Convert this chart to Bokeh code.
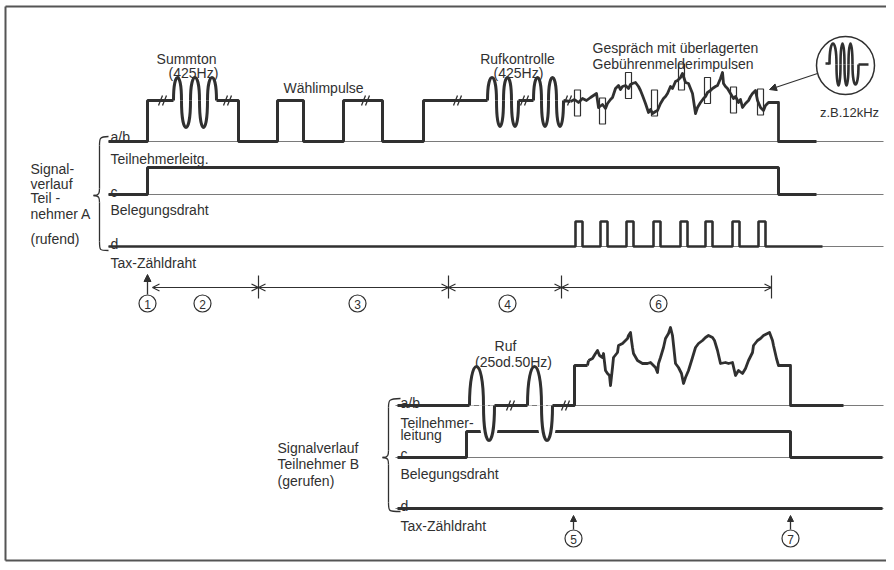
from bokeh.plotting import figure
from bokeh.models import Range1d, Arrow, NormalHead, OpenHead
from bokeh.core.properties import value
from bokeh.embed import file_html
from bokeh.resources import INLINE

NAN = float("nan")

# ---------------- data: signal waveforms (time position, level above wire baseline) -------------
# Teilnehmer A, a/b wire (Teilnehmerleitung): step parts, NaN = gap where a tone burst is drawn
a_ab_t = [108, 147, 147, 173, NAN,
          216, 238, 238, 277, 277, 303, 303, 343, 343, 382, 382, 423, 423, 487, NAN,
          518, 533, NAN,
          563, 570]
a_ab_l = [0, 0, 41, 41, NAN,
          41, 41, 0, 0, 41, 41, 0, 0, 41, 41, 0, 0, 41, 41, NAN,
          41, 41, NAN,
          41, 40]
# conversation (Gespräch) on A
a_talk_t = [574, 578, 582, 586, 590, 593, 596, 598, 602, 605, 607, 610, 612, 615, 618, 620, 622,
            625, 628, 630, 632, 635, 638, 640, 642, 645, 648, 650, 652, 655, 657, 660, 663, 665,
            667, 670, 672, 675, 677, 680, 682, 685, 688, 690, 692, 695, 697, 700, 703, 705, 707,
            710, 712, 715, 717, 720, 722, 723, 725, 727, 730, 733, 735, 738, 740, 742, 745, 748,
            750, 752, 755, 757, 760, 763, 765, 768, 773, 777, 778, 778, 816]
a_talk_l = [42, 39, 43, 41, 44, 46, 48, 34, 37, 33, 38, 42, 44, 53, 56, 52, 55,
            56, 53, 57, 58, 59, 55, 51, 46, 38, 29, 32, 28, 30, 31, 38, 43, 45,
            48, 55, 53, 60, 61, 64, 68, 59, 58, 53, 48, 28, 34, 39, 43, 45, 49,
            51, 53, 55, 56, 63, 69, 58, 55, 53, 48, 43, 45, 39, 42, 34, 38, 41,
            45, 48, 51, 41, 34, 31, 36, 39, 39, 39, 39, 0, 0]
ab_high = 41
# tone bursts: half-cycle boundaries and amplitudes
summton_t = [173, 181, 190, 199, 207, 216]
summton_a = [23, -27, 23, -27, 23]
rufkontr1_t = [487, 496, 503, 511, 518]
rufkontr2_t = [533, 541, 548, 556, 563]
rufkontr_a = [23, -26, 23, -26]
# charging pulses (Gebührenmelderimpulse) superimposed on the a/b line, level of box centre
gm_t = [577, 602, 628, 654, 681, 707, 733, 760]
gm_l = [38.5, 30.5, 56, 38.5, 64.5, 51, 41.5, 39.5]
# A, c wire (Belegungsdraht)
a_c_t = [108, 147, 147, 778, 778, 816]
a_c_l = [0, 0, 27, 27, 0, 0]
# A, d wire (Tax-Zähldraht) pulses
a_d_pulse_t = [575, 600, 626, 653, 680, 705, 732, 758]
a_d_end = 822
# break marks (//)
a_break_t = [162, 227, 365, 457, 524, 567]
# magnified 12 kHz burst
burst_t = [829, 836, 840, 844, 848, 852, 858]
burst_a = [21, -21, 21, -21, 21, -20]

# Teilnehmer B, a/b wire
b_ab_t = [397, 469, NAN, 494, 527, NAN, 552, 574, 574, 587]
b_ab_l = [0, 0, NAN, 0, 0, NAN, 0, 0, 40, 40]
b_talk_t = [588, 592, 595, 597, 599, 602, 603, 605, 607, 609, 610, 612, 613, 617, 618, 622, 625,
            627, 628, 630, 631, 632, 633, 637, 642, 647, 650, 653, 655, 657, 658, 660, 663, 665,
            668, 670, 672, 675, 678, 681, 683, 685, 688, 692, 695, 698, 702, 705, 708, 712, 714,
            717, 720, 725, 728, 732, 735, 738, 742, 745, 748, 752, 753, 757, 760, 763, 767, 769,
            772, 773, 776, 778, 790, 790, 843]
b_talk_l = [45, 47, 52, 55, 50, 48, 52, 35, 32, 30, 20, 38, 48, 53, 60, 62, 65,
            67, 70, 73, 65, 58, 52, 45, 42, 42, 43, 40, 38, 33, 42, 48, 58, 67,
            72, 78, 70, 42, 38, 32, 22, 28, 35, 48, 58, 62, 65, 68, 70, 68, 65,
            55, 42, 43, 42, 43, 30, 35, 32, 37, 45, 53, 60, 65, 67, 70, 72, 73,
            65, 60, 47, 40, 40, 0, 0]
# ringing (Ruf) half cycles
ruf1_t = [469, 483, 494]
ruf2_t = [527, 541, 552]
ruf_a = [39, -35]
b_c_t = [397, 466, 466, 790, 790, 882]
b_c_l = [0, 0, 26, 26, 0, 0]
b_d_t = [397, 882]
b_d_l = [0, 0]
b_break_t = [510, 565]

# phases
phase_t = [258, 448, 561, 771]

# ---------------- drawing ----------------
INK = "#303030"
THIN = "#7a7a7a"
FONT = value("Liberation Sans")

W, H = 886, 562
p = figure(width=W, height=H, x_range=Range1d(0, W), y_range=Range1d(H, 0),
           output_backend="svg", toolbar_location=None, min_border=0,
           x_axis_type=None, y_axis_type=None)
p.grid.visible = False
p.outline_line_color = None
p.background_fill_color = "white"
p.border_fill_color = "white"

# frame
p.segment(x0=[5, 5, 5], y0=[6, 6, H - 2], x1=[W, 5, W], y1=[6, H - 2, H - 2],
          line_color="#555555", line_width=2)

A_AB, A_C, A_D = 141, 194, 246
B_AB, B_C, B_D = 405, 457, 508


def Y(base, levels):
    return [base - l for l in levels]


def humps(bounds, amps, base, center, width=3, color=INK):
    x0 = bounds[:-1]
    x1 = bounds[1:]
    yc = base - center
    cy = [yc - 4.0 * a / 3.0 for a in amps]
    n = len(x0)
    p.bezier(x0=x0, y0=[yc] * n, x1=x1, y1=[yc] * n, cx0=x0, cy0=cy, cx1=x1, cy1=cy,
             line_width=width, line_color=color)


def txt(x, y, s, size=14, align="left", font=FONT):
    p.text(x=[x], y=[y], text=[s], text_font=font, text_font_size=f"{size}px",
           text_align=align, text_baseline="alphabetic", text_color=INK)


# thin wire baselines
for base, x0 in [(A_AB, 108), (A_C, 108), (A_D, 108), (B_AB, 395), (B_C, 395), (B_D, 395)]:
    p.segment(x0=[x0], y0=[base], x1=[883], y1=[base], line_color=THIN, line_width=1.2)

# A signals
p.line(a_ab_t, Y(A_AB, a_ab_l), line_color=INK, line_width=3)
p.line(a_talk_t, Y(A_AB, a_talk_l), line_color=INK, line_width=2.8, line_join="round")
p.line([570, 574], Y(A_AB, [40, 42]), line_color=INK, line_width=2.8)
humps(summton_t, summton_a, A_AB, ab_high)
humps(rufkontr1_t, rufkontr_a, A_AB, ab_high)
humps(rufkontr2_t, rufkontr_a, A_AB, ab_high)
p.quad(left=[t - 3 for t in gm_t], right=[t + 3 for t in gm_t],
       top=[A_AB - l - 13 for l in gm_l], bottom=[A_AB - l + 13 for l in gm_l],
       fill_color=None, line_color=INK, line_width=1.2)
p.line(a_c_t, Y(A_C, a_c_l), line_color=INK, line_width=3)
dx, dl = [108], [0]
for t in a_d_pulse_t:
    dx += [t, t, t + 7, t + 7]
    dl += [0, 25, 25, 0]
dx.append(a_d_end)
dl.append(0)
p.line(dx, Y(A_D, dl), line_color=INK, line_width=2.6)


# break marks
def breaks(ts, base, level):
    yc = base - level
    xs0, ys0, xs1, ys1 = [], [], [], []
    for t in ts:
        for o in (-2, 2):
            xs0.append(t + o - 2); ys0.append(yc + 5)
            xs1.append(t + o + 2); ys1.append(yc - 5)
    p.segment(x0=xs0, y0=ys0, x1=xs1, y1=ys1, line_color=INK, line_width=1.3)


breaks(a_break_t, A_AB, ab_high)

# B signals
p.line(b_c_t, Y(B_C, b_c_l), line_color=INK, line_width=3)
p.line(b_d_t, Y(B_D, b_d_l), line_color=INK, line_width=3)
humps(ruf1_t, ruf_a, B_AB, 0, width=9, color="white")
humps(ruf2_t, ruf_a, B_AB, 0, width=9, color="white")
p.line(b_ab_t, Y(B_AB, b_ab_l), line_color=INK, line_width=3)
p.line(b_talk_t, Y(B_AB, b_talk_l), line_color=INK, line_width=2.8, line_join="round")
p.line([587, 588], Y(B_AB, [40, 45]), line_color=INK, line_width=2.8)
humps(ruf1_t, ruf_a, B_AB, 0)
humps(ruf2_t, ruf_a, B_AB, 0)
breaks(b_break_t, B_AB, 0)

# magnifier
p.circle(x=[845], y=[65], radius=29, fill_color=None, line_color=INK, line_width=1.5)
p.line([825, 829], [63, 63], line_color=INK, line_width=2.6)
humps(burst_t, burst_a, 64, 0, width=2.6)
p.line([858, 868], [64, 64], line_color=INK, line_width=2.6)
p.add_layout(Arrow(end=NormalHead(size=7, fill_color=INK, line_color=INK),
                   x_start=817, y_start=73, x_end=769, y_end=89,
                   line_color=INK, line_width=1.2))


# braces
def brace(xr, xv, xtip, ytop, ytip, ybot):
    p.bezier(x0=[xr, xv, xtip, xv], y0=[ytop, ytip - 7, ytip, ybot - 9],
             x1=[xv, xtip, xv, xr], y1=[ytop + 9, ytip, ytip + 7, ybot],
             cx0=[xv, xv, xv, xv], cy0=[ytop, ytip - 3, ytip, ybot],
             cx1=[xv, xv, xv, xv], cy1=[ytop + 2, ytip, ytip + 3, ybot],
             line_color=INK, line_width=1.3)
    p.segment(x0=[xv, xv], y0=[ytop + 9, ytip + 7], x1=[xv, xv], y1=[ytip - 7, ybot - 9],
              line_color=INK, line_width=1.3)


brace(108, 99, 93, 136, 195, 250)
brace(400, 388, 382, 398, 457, 511)

# phase markers, A
p.add_layout(Arrow(end=NormalHead(size=7, fill_color=INK, line_color=INK),
                   x_start=147, y_start=294, x_end=147, y_end=274, line_color=INK, line_width=1.3))
p.add_layout(Arrow(start=OpenHead(size=7, line_color=INK, line_width=1.2),
                   end=OpenHead(size=7, line_color=INK, line_width=1.2),
                   x_start=152, y_start=287, x_end=phase_t[0], y_end=287,
                   line_color=INK, line_width=1.2))
for a, b in zip(phase_t[:-1], phase_t[1:]):
    p.add_layout(Arrow(start=OpenHead(size=7, line_color=INK, line_width=1.2),
                       end=OpenHead(size=7, line_color=INK, line_width=1.2),
                       x_start=a, y_start=287, x_end=b, y_end=287,
                       line_color=INK, line_width=1.2))
p.segment(x0=phase_t, y0=[275] * 4, x1=phase_t, y1=[298] * 4, line_color=INK, line_width=1.2)

num_x = [147, 202, 357, 507, 658, 573, 790]
num_y = [303, 303, 303, 303, 303, 538, 538]
num_s = ["1", "2", "3", "4", "6", "5", "7"]
p.scatter(x=num_x, y=num_y, marker="circle", size=17, fill_color="white",
          line_color=INK, line_width=1.2)
p.text(x=num_x, y=[v + 0.5 for v in num_y], text=num_s, text_font=FONT, text_font_size="12px",
       text_align="center", text_baseline="middle", text_color=INK)
for xx in (573, 790):
    p.add_layout(Arrow(end=NormalHead(size=6, fill_color=INK, line_color=INK),
                       x_start=xx, y_start=529, x_end=xx, y_end=515, line_color=INK, line_width=1.3))

# texts A
txt(186, 58, "Summton", align="center")
txt(193, 72, "(425Hz)", align="center")
txt(323, 87, "Wählimpulse", align="center")
txt(517, 58, "Rufkontrolle", align="center")
txt(518, 72, "(425Hz)", align="center")
txt(592, 47, "Gespräch mit überlagerten")
txt(592, 63, "Gebührenmelderimpulsen")
txt(849, 112, "z.B.12kHz", size=13, align="center")
for s, yy in [("a/b", 136), ("Teilnehmerleitg.", 158), ("c", 191), ("Belegungsdraht", 209),
              ("d", 243), ("Tax-Zähldraht", 262)]:
    txt(110, yy, s)
for s, yy in [("Signal-", 168), ("verlauf", 183), ("Teil -", 197), ("nehmer A", 213),
              ("(rufend)", 238)]:
    txt(30, yy, s)
# texts B
txt(505, 345, "Ruf", align="center")
txt(513, 361, "(25od.50Hz)", align="center")
for s, yy in [("a/b", 402), ("Teilnehmer-", 422), ("leitung", 434), ("c", 453),
              ("Belegungsdraht", 473), ("d", 505), ("Tax-Zähldraht", 525)]:
    txt(400, yy, s)
for s, yy in [("Signalverlauf", 447), ("Teilnehmer  B", 463), ("(gerufen)", 480)]:
    txt(277, yy, s)

open("out.html", "w").write(file_html(p, INLINE))
